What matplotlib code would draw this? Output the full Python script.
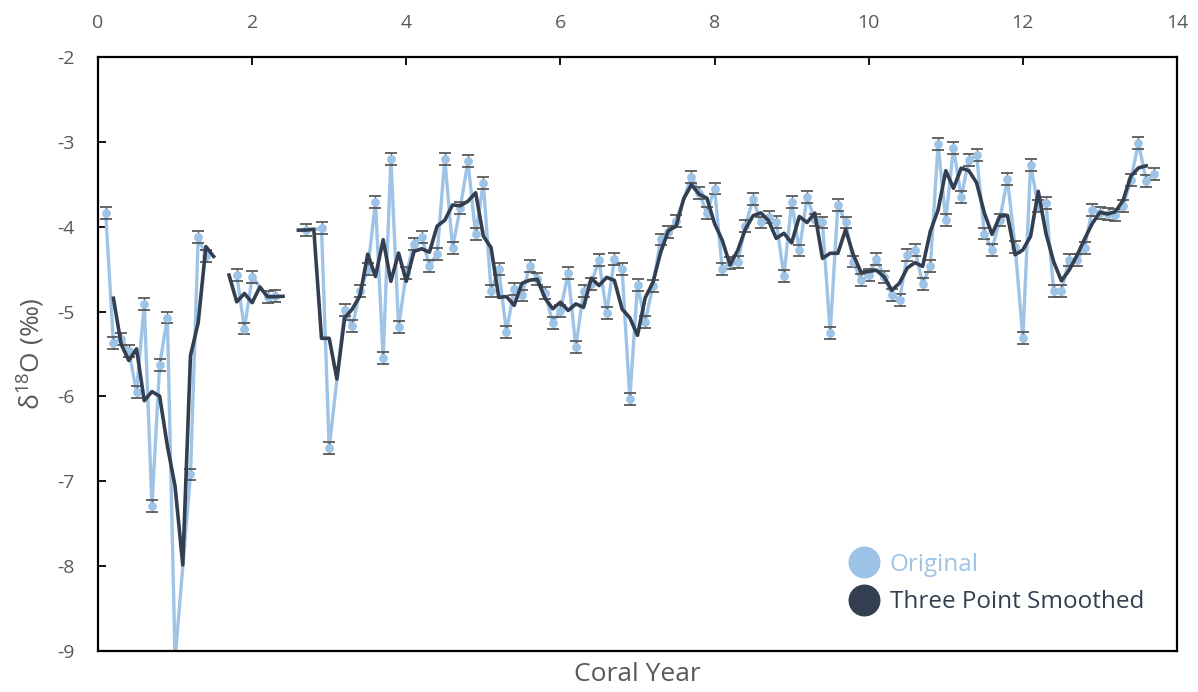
import numpy as np
import matplotlib
matplotlib.use("Agg")
import matplotlib.pyplot as plt
from matplotlib.lines import Line2D

plt.rcParams["font.family"] = ["Open Sans", "DejaVu Sans"]
plt.rcParams["mathtext.fontset"] = "custom"
plt.rcParams["mathtext.rm"] = "Open Sans"
plt.rcParams["axes.unicode_minus"] = False

# coral year, sampled every 0.1 yr
years = np.round(np.arange(1, 138) / 10, 1)

# delta 18O of each sample (nan = no sample)
d18o = [
    -3.84, -5.37, -5.32, -5.46, -5.95, -4.91, -7.29, -5.63, -5.07, -9.10,
    np.nan, -6.92, -4.12, -4.35, np.nan, np.nan, np.nan, -4.57, -5.20, -4.59,
    np.nan, -4.83, -4.82, np.nan, np.nan, np.nan, -4.04, np.nan, -4.02, -6.61,
    np.nan, -4.98, -5.17, -4.76, -4.50, -3.71, -5.55, -3.20, -5.18, -4.55,
    -4.20, -4.12, -4.46, -4.32, -3.20, -4.25, -3.78, -3.23, -4.09, -3.48,
    -4.76, -4.50, -5.24, -4.73, -4.81, -4.46, -4.62, -4.78, -5.13, -4.99,
    -4.55, -5.42, -4.76, -4.67, -4.39, -5.02, -4.38, -4.50, -6.03, -4.69,
    -5.12, -4.70, -4.15, -4.06, -3.93, np.nan, -3.41, -3.60, -3.84, -3.55,
    -4.50, -4.43, -4.42, -3.99, -3.67, -3.95, -3.89, -3.94, -4.58, -3.71,
    -4.28, -3.65, -3.92, -3.95, -5.25, -3.74, -3.95, -4.41, -4.63, -4.57,
    -4.38, -4.59, -4.80, -4.86, -4.33, -4.27, -4.67, -4.46, -3.03, -3.92,
    -3.07, -3.65, -3.21, -3.16, -4.08, -4.27, -3.92, -3.44, -4.24, -5.31,
    -3.27, -3.76, -3.72, -4.76, -4.76, -4.39, -4.39, -4.25, -3.80, -3.84,
    -3.85, -3.86, -3.76, -3.45, -3.01, -3.46, -3.38,
]

# three point smoothed record
smoothed = [
    np.nan, -4.843, -5.383, -5.577, -5.440, -6.050, -5.943, -5.997, -6.583, -7.060,
    -7.985, -5.520, -5.130, -4.235, -4.350, np.nan, -4.570, -4.885, -4.787, -4.895,
    -4.710, -4.825, -4.825, -4.820, np.nan, -4.040, -4.040, -4.030, -5.315, -5.315,
    -5.795, -5.075, -4.970, -4.810, -4.323, -4.587, -4.153, -4.643, -4.310, -4.643,
    -4.290, -4.260, -4.300, -3.993, -3.923, -3.743, -3.753, -3.700, -3.600, -4.110,
    -4.247, -4.833, -4.823, -4.927, -4.667, -4.630, -4.620, -4.843, -4.967, -4.890,
    -4.987, -4.910, -4.950, -4.607, -4.693, -4.597, -4.633, -4.970, -5.073, -5.280,
    -4.837, -4.657, -4.303, -4.047, -3.995, -3.670, -3.505, -3.617, -3.663, -3.963,
    -4.160, -4.450, -4.280, -4.027, -3.870, -3.837, -3.927, -4.137, -4.077, -4.190,
    -3.880, -3.950, -3.840, -4.373, -4.313, -4.313, -4.033, -4.330, -4.537, -4.527,
    -4.513, -4.590, -4.750, -4.663, -4.487, -4.423, -4.467, -4.053, -3.803, -3.340,
    -3.547, -3.310, -3.340, -3.483, -3.837, -4.090, -3.877, -3.867, -4.330, -4.273,
    -4.113, -3.583, -4.080, -4.413, -4.637, -4.513, -4.343, -4.147, -3.963, -3.830,
    -3.850, -3.823, -3.690, -3.407, -3.307, -3.283, np.nan,
]

d18o_err = 0.07

light = "#9DC3E6"
dark = "#333F50"
grey = "#595959"

d18o = np.array(d18o)
smoothed = np.array(smoothed)

fig = plt.figure(figsize=(11.98, 6.92), dpi=100)
ax = fig.add_axes([98 / 1198, 41 / 692, 1079 / 1198, 594 / 692])

# original series: bridge single missing samples, break on longer gaps
ok = ~np.isnan(d18o)
xs, ys = years[ok], d18o[ok]
breaks = np.where(np.diff(xs) > 0.25)[0] + 1
for xseg, yseg in zip(np.split(xs, breaks), np.split(ys, breaks)):
    ax.plot(xseg, yseg, color=light, lw=2.4, zorder=2, solid_joinstyle="round")
ax.errorbar(xs, ys, yerr=d18o_err, fmt="none", ecolor=grey, elinewidth=1,
            capsize=4.5, capthick=1.3, zorder=3)
ax.plot(xs, ys, "o", color=light, ms=6.3, mec="none", zorder=4)

ax.plot(years, smoothed, color=dark, lw=2.6, zorder=5, solid_joinstyle="round")

ax.set_xlim(0, 14)
ax.set_ylim(-9, -2)
ax.set_xticks(np.arange(0, 15, 2))
ax.set_yticks(np.arange(-9, -1, 1))
ax.xaxis.tick_top()
ax.xaxis.set_label_position("bottom")
ax.tick_params(direction="in", length=6, width=1.3, colors="black",
               labelcolor=grey, labelsize=14)
ax.tick_params(axis="x", pad=18)
ax.tick_params(axis="y", pad=17)
for s in ax.spines.values():
    s.set_linewidth(1.6)
    s.set_color("black")

ax.set_xlabel("Coral Year", fontsize=19, color=grey, labelpad=8)
ax.set_ylabel(r"δ$^{18}$O (‰)", fontsize=19, color=grey, labelpad=8)

handles = [
    Line2D([], [], ls="none", marker="o", ms=22, color=light),
    Line2D([], [], ls="none", marker="o", ms=22, color=dark),
]
leg = ax.legend(handles, ["Original", "Three Point Smoothed"], loc="lower left",
                bbox_to_anchor=(0.673, 0.025), frameon=False, fontsize=17.5,
                handletextpad=0.3, labelspacing=0.55, handlelength=1.5)
for txt, c in zip(leg.get_texts(), [light, dark]):
    txt.set_color(c)

fig.savefig("out.png", dpi=100)
